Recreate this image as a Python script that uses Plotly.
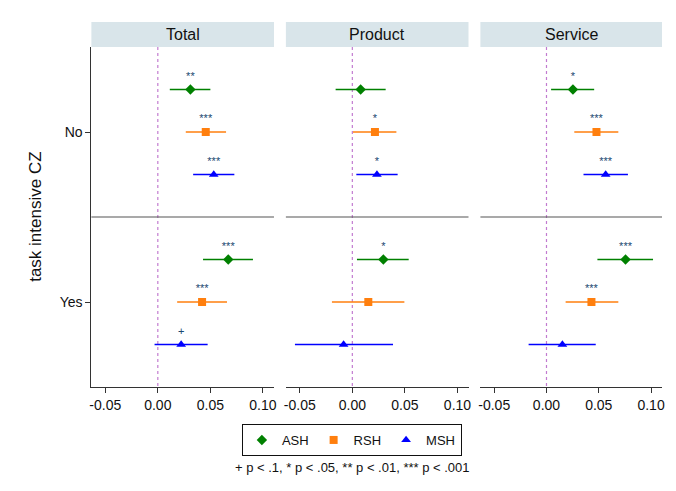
import plotly.graph_objects as go

panels = ["Total", "Product", "Service"]
categories = ["No", "Yes"]
series = ["ASH", "RSH", "MSH"]

# estimates[panel][series] -> values for [No, Yes]
est = {
    "Total":   {"ASH": [0.031, 0.067],  "RSH": [0.0456, 0.0421], "MSH": [0.0532, 0.0222]},
    "Product": {"ASH": [0.0079, 0.0295], "RSH": [0.0215, 0.0152], "MSH": [0.0234, -0.0083]},
    "Service": {"ASH": [0.0253, 0.0756], "RSH": [0.0478, 0.043],  "MSH": [0.0566, 0.0152]},
}
ci_lo = {
    "Total":   {"ASH": [0.0114, 0.043],  "RSH": [0.0266, 0.0184], "MSH": [0.0336, -0.0031]},
    "Product": {"ASH": [-0.0159, 0.0044], "RSH": [0.0006, -0.0194], "MSH": [0.0038, -0.0546]},
    "Service": {"ASH": [0.0044, 0.0487], "RSH": [0.0266, 0.0183], "MSH": [0.0354, -0.0171]},
}
ci_hi = {
    "Total":   {"ASH": [0.050, 0.0905], "RSH": [0.0649, 0.0658], "MSH": [0.0728, 0.0474]},
    "Product": {"ASH": [0.0317, 0.0536], "RSH": [0.0419, 0.0495], "MSH": [0.0431, 0.0387]},
    "Service": {"ASH": [0.0456, 0.1019], "RSH": [0.0687, 0.0687], "MSH": [0.0779, 0.0471]},
}
stars = {
    "Total":   {"ASH": ["**", "***"], "RSH": ["***", "***"], "MSH": ["***", "+"]},
    "Product": {"ASH": ["", "*"],     "RSH": ["*", ""],      "MSH": ["*", ""]},
    "Service": {"ASH": ["*", "***"],  "RSH": ["***", "***"], "MSH": ["***", ""]},
}
x_ticks = [-0.05, 0.0, 0.05, 0.10]
x_ticklabels = ["-0.05", "0.00", "0.05", "0.10"]
note = "+ p < .1, * p < .05, ** p < .01, *** p < .001"
y_title = "task intensive CZ"

colors = {"ASH": "#008000", "RSH": "#ff7f0e", "MSH": "#0000ff"}
symbols = {"ASH": "diamond", "RSH": "square", "MSH": "triangle-up"}
sizes = {"ASH": 8, "RSH": 8, "MSH": 8.5}
offsets = {"ASH": -0.25, "RSH": 0.0, "MSH": 0.25}
FONT = "Liberation Sans, Arial, sans-serif"
STAR_COLOR = "#1a476f"

# page body has an 8px margin; work in window pixels and shift
OFF = 8
W, H = 676 - 2 * OFF, 491 - 2 * OFF


def fx(px):
    return (px - OFF) / W


def fy(py):
    return (H - (py - OFF)) / H


px_dom = [(90, 274), (286, 470), (482, 665)]
top_px, bot_px = 47, 387
strip_top = 22
ydom = [fy(bot_px), fy(top_px)]
xrange_ = [-0.0632, 0.1105]

fig = go.Figure()
for pi, p in enumerate(panels):
    xa = "x" if pi == 0 else f"x{pi+1}"
    ya = "y" if pi == 0 else f"y{pi+1}"
    fig.add_trace(go.Scatter(x=[0, 0], y=[0.5, 2.5], mode="lines",
                             line=dict(color="#c27bd0", width=1.2, dash="dot"),
                             showlegend=False, hoverinfo="skip", xaxis=xa, yaxis=ya))
    for s in series:
        ys = [ci + 1 + offsets[s] for ci in range(len(categories))]
        e = est[p][s]
        plus = [h - v for h, v in zip(ci_hi[p][s], e)]
        minus = [v - l for v, l in zip(e, ci_lo[p][s])]
        fig.add_trace(go.Scatter(
            x=e, y=ys, mode="markers", name=s,
            marker=dict(symbol=symbols[s], color=colors[s], size=sizes[s]),
            error_x=dict(type="data", symmetric=False, array=plus, arrayminus=minus,
                         color=colors[s], thickness=1.6, width=0),
            showlegend=(pi == 0), legendgroup=s, xaxis=xa, yaxis=ya))
        fig.add_trace(go.Scatter(
            x=e, y=[y - 0.075 for y in ys], mode="text", text=stars[p][s],
            textposition="middle center",
            textfont=dict(color=STAR_COLOR, size=11, family=FONT),
            showlegend=False, hoverinfo="skip", xaxis=xa, yaxis=ya))

    d = (fx(px_dom[pi][0]), fx(px_dom[pi][1]))
    xkey = "xaxis" if pi == 0 else f"xaxis{pi+1}"
    ykey = "yaxis" if pi == 0 else f"yaxis{pi+1}"
    fig.layout[xkey] = dict(domain=d, range=xrange_, anchor=ya, tickvals=x_ticks,
                            ticktext=x_ticklabels, ticks="outside", ticklen=5,
                            tickcolor="#333", showline=True, linecolor="#333",
                            linewidth=1, showgrid=False, zeroline=False,
                            tickfont=dict(size=14, color="#111", family=FONT))
    fig.layout[ykey] = dict(domain=ydom, range=[2.5, 0.5], anchor=xa,
                            tickvals=[1, 2], ticktext=categories if pi == 0 else ["", ""],
                            ticks="outside" if pi == 0 else "", ticklen=5, tickcolor="#333",
                            showline=(pi == 0), linecolor="#333", linewidth=1,
                            showgrid=False, zeroline=False, showticklabels=(pi == 0),
                            tickfont=dict(size=14, color="#111", family=FONT))
    fig.add_shape(type="line", xref=f"{xa} domain", yref=ya, x0=0, x1=1, y0=1.5, y1=1.5,
                  line=dict(color="#555", width=1.2))
    fig.add_shape(type="rect", xref="paper", yref="paper", x0=d[0], x1=d[1],
                  y0=fy(top_px), y1=fy(strip_top),
                  fillcolor="#d9e5ea", line=dict(width=0), layer="below")
    fig.add_annotation(x=(d[0] + d[1]) / 2, y=fy((strip_top + top_px) / 2),
                       xref="paper", yref="paper", text=p, showarrow=False,
                       font=dict(size=16, color="#111", family=FONT),
                       xanchor="center", yanchor="middle")

fig.add_annotation(x=fx(34), y=fy((top_px + bot_px) / 2), xref="paper", yref="paper",
                   text=y_title, textangle=-90, showarrow=False,
                   xanchor="center", yanchor="middle",
                   font=dict(size=17, color="#111", family=FONT))
fig.add_annotation(x=fx(353), y=fy(467), xref="paper", yref="paper", text=note,
                   showarrow=False, font=dict(size=13, color="#111", family=FONT),
                   xanchor="center", yanchor="middle")

fig.update_layout(
    width=W, height=H, margin=dict(l=0, r=0, t=0, b=0),
    paper_bgcolor="white", plot_bgcolor="white",
    font=dict(family=FONT),
    legend=dict(orientation="h", x=fx(352.5), xanchor="center", y=fy(424),
                yanchor="top", bordercolor="#111", borderwidth=1, bgcolor="white",
                font=dict(size=13, color="#111", family=FONT)),
)
fig.write_html("out.html")
